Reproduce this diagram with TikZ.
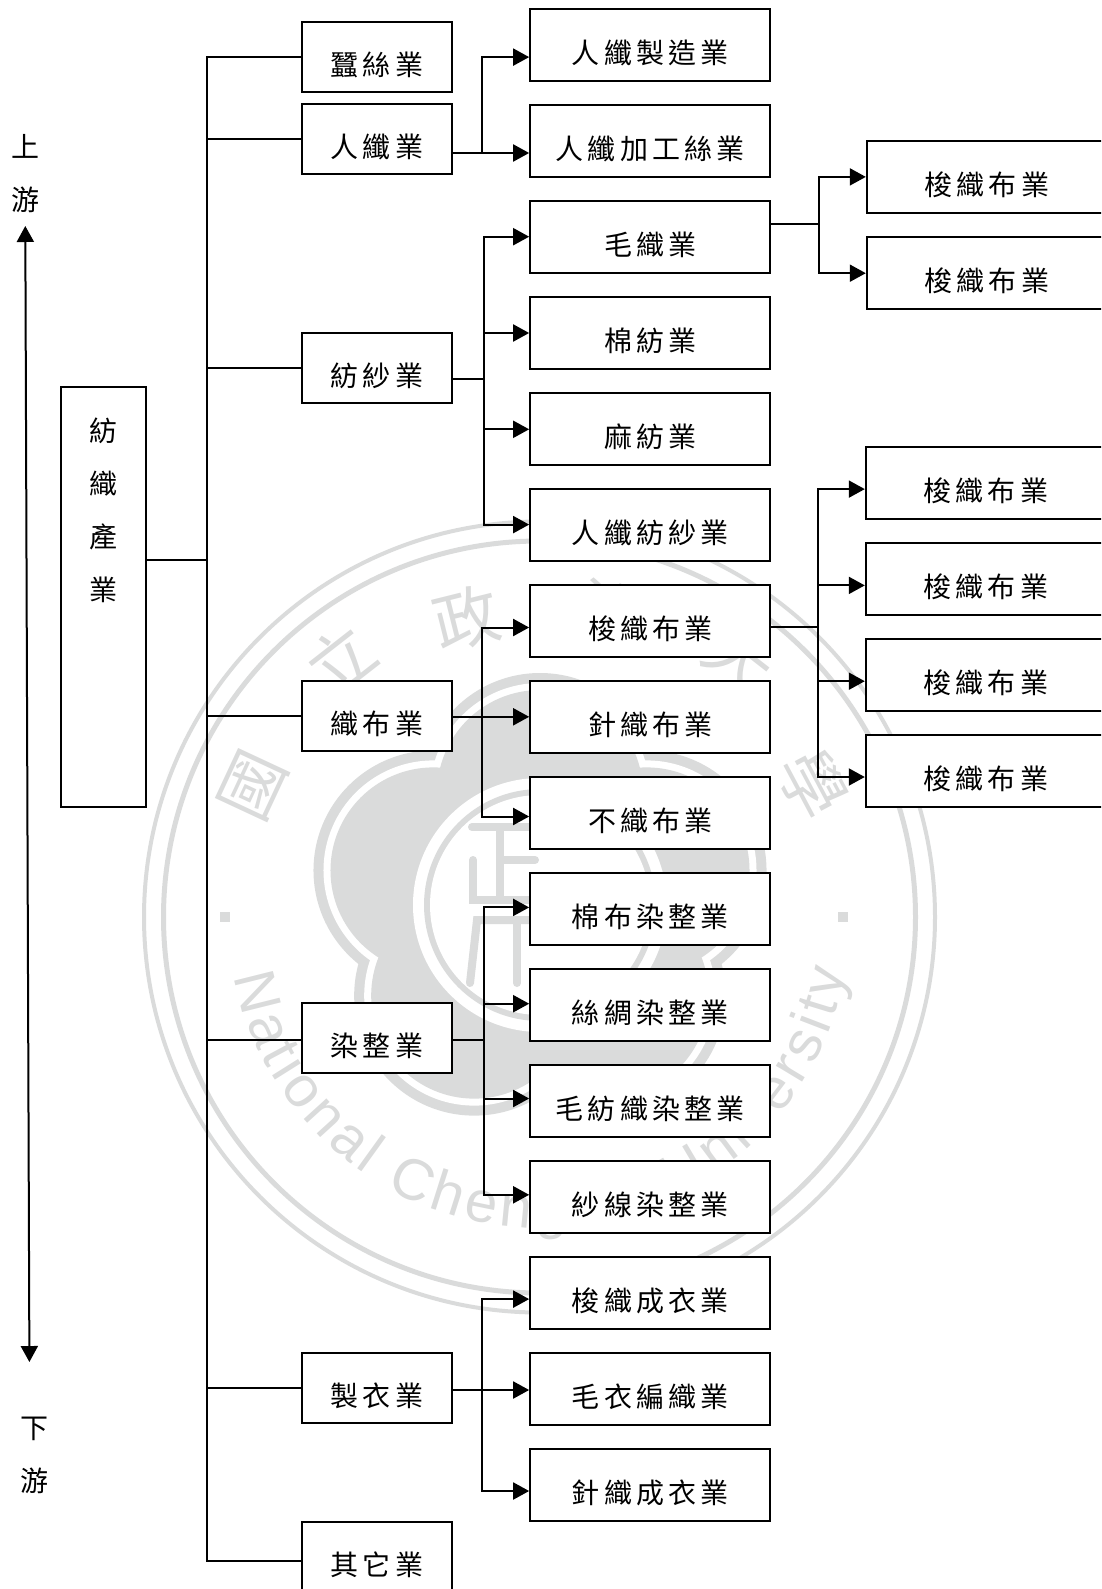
\documentclass[tikz,border=0pt]{standalone}
\usepackage{fontspec}
\usetikzlibrary{arrows.meta,calc,decorations.text}
\newfontfamily\cjkfont[LetterSpace=15]{Noto Sans CJK TC}
\newfontfamily\sealfont{Noto Sans CJK TC}
\newfontfamily\seallatin{Liberation Sans}
\definecolor{sealgray}{HTML}{DADBDB}

\begin{document}
\begin{tikzpicture}[
		x=1pt, y=-1pt,
		midbox/.style={draw, fill=white, line width=2pt, minimum width=150.6pt, minimum height=70pt, inner sep=0pt, text height=43pt, text depth=6pt, font=\cjkfont\fontsize{28}{30}\selectfont},
		subbox/.style={midbox, minimum width=240.3pt, minimum height=72pt},
		leafbox/.style={midbox, minimum width=240pt, minimum height=72pt},
		sidetext/.style={align=center, inner sep=0pt, font=\cjkfont\fontsize{28}{53}\selectfont},
		sealchar/.style={text=sealgray, inner sep=0pt, font=\sealfont\fontsize{66}{70}\selectfont},
		seal/.style={sealgray, line cap=round, line width=8pt},
		link/.style={line width=2pt},
		>={Triangle[length=16pt,width=17pt]}
	]
	\useasboundingbox (0,0) rectangle (1101,1589);
	\clip (0,0) rectangle (1101,1589);

	% watermark
	\draw[sealgray, line width=4pt] (539.5,917) circle[radius=395.5];
	\draw[sealgray, line width=5pt] (539.5,917) circle[radius=376];
	\fill[sealgray] (220,912) rectangle (230,922);
	\fill[sealgray] (838,912) rectangle (848,922);
	\foreach \sealx/\sealy/\sealrot/\sealtext in {253/786/65/國, 340/659/38/立, 466/618/14/政, 610/612/-14/治, 740/659/-38/大, 813/784/-62/學}
		\node[sealchar, rotate=\sealrot] at (\sealx,\sealy) {\sealtext};
	\path[decorate, decoration={text along path, text align=fit to path,
		text={|\seallatin\fontsize{58}{58}\selectfont\color{sealgray}|National Chengchi University}}]
		plot[domain=191:350, samples=80] ({539.5+311*cos(\x)},{917-311*sin(\x)});
	\foreach \petal in {90,162,234,306,18}
		\fill[sealgray] ({540+112*cos(\petal)},{905-112*sin(\petal)}) circle[radius=120];
	\foreach \petal in {90,162,234,306,18}
		\fill[white] ({540+112*cos(\petal)},{905-112*sin(\petal)}) circle[radius=110];
	\foreach \petal in {90,162,234,306,18}
		\fill[sealgray] ({540+112*cos(\petal)},{905-112*sin(\petal)}) circle[radius=103];
	\fill[sealgray] (540,905) circle[radius=110];
	\fill[white] (540,905) circle[radius=127];
	\fill[sealgray] (540,905) circle[radius=116];
	\fill[white] (540,905) circle[radius=110];
	\draw[seal] (472,827) -- (535,827);
	\draw[seal] (500,827) -- (500,897);
	\draw[seal] (500,860) -- (535,860);
	\draw[seal] (473,860) -- (473,900) -- (535,900);
	\draw[seal] (470,983) -- (477,920) -- (535,920);
	\draw[seal] (517,923) -- (517,983);

	% left labels
	\node[sidetext] (upstream) at (25.3,174) {上\\游};
	\node[sidetext] (downstream) at (34.5,1455) {下\\游};
	\coordinate (uptip) at (25.3,226);
	\coordinate (downtip) at (29.4,1362);
	\draw[<->, link] (uptip) -- (downtip);

	% root
	\node[midbox, minimum width=85.2pt, minimum height=420.7pt, text height=0pt, text depth=0pt] (rootbox) at (103.4,596.9) {};
	\node[sidetext] (roottext) at (103.9,510.5) {紡\\織\\產\\業};

	% middle column
	\node[midbox] (silk) at (376.9,56.8) {蠶絲業};
	\node[midbox] (rayon) at (376.9,139.4) {人纖業};
	\node[midbox] (spinning) at (376.9,367.5) {紡紗業};
	\node[midbox] (weaving) at (376.9,716.3) {織布業};
	\node[midbox] (dyeing) at (376.9,1038.2) {染整業};
	\node[midbox] (apparel) at (376.9,1388.4) {製衣業};
	\node[midbox] (others) at (376.9,1556.5) {其它業};

	% sub column
	\node[subbox] (rayonmake) at (650.3,45.1) {人纖製造業};
	\node[subbox] (rayonproc) at (650.3,140.9) {人纖加工絲業};
	\node[subbox] (wool) at (650.3,236.7) {毛織業};
	\node[subbox] (cotton) at (650.3,333) {棉紡業};
	\node[subbox] (linen) at (650.3,429.3) {麻紡業};
	\node[subbox] (rayonspin) at (650.3,524.6) {人纖紡紗業};
	\node[subbox] (woven) at (650.3,621) {梭織布業};
	\node[subbox] (knit) at (650.3,717.3) {針織布業};
	\node[subbox] (nonwoven) at (650.3,813) {不織布業};
	\node[subbox] (cottondye) at (650.3,908.9) {棉布染整業};
	\node[subbox] (silkdye) at (650.3,1005.2) {絲綢染整業};
	\node[subbox] (wooldye) at (650.3,1101) {毛紡織染整業};
	\node[subbox] (yarndye) at (650.3,1197.3) {紗線染整業};
	\node[subbox] (wovenwear) at (650.3,1293.1) {梭織成衣業};
	\node[subbox] (sweater) at (650.3,1389.4) {毛衣編織業};
	\node[subbox] (knitwear) at (650.3,1485) {針織成衣業};

	% right column
	\node[leafbox] (woola) at (986.8,176.9) {梭織布業};
	\node[leafbox] (woolb) at (986.8,273.2) {梭織布業};
	\node[leafbox] (wovena) at (985.8,483.1) {梭織布業};
	\node[leafbox] (wovenb) at (985.8,579.4) {梭織布業};
	\node[leafbox] (wovenc) at (985.8,674.7) {梭織布業};
	\node[leafbox] (wovend) at (985.8,771) {梭織布業};

	% trunk
	\coordinate (trunkend) at (206.8,1561.3);
	\coordinate (trunkjoin) at (206.8,559.6);
	\draw[link] (silk.west) -| (trunkend) -- (others.west |- trunkend);
	\draw[link] (rootbox.east |- trunkjoin) -- (trunkjoin);
	\draw[link] (rayon.west) -- (rayon.west -| trunkend);
	\draw[link] (spinning.west) -- (spinning.west -| trunkend);
	\draw[link] (weaving.west) -- (weaving.west -| trunkend);
	\draw[link] ([yshift=-2pt]dyeing.west) -- ([yshift=-2pt]dyeing.west -| trunkend);
	\draw[link] (apparel.west) -- (apparel.west -| trunkend);

	% rayon
	\coordinate (rayonbus) at (481.6,153);
	\draw[link] (rayon.east |- rayonbus) -- (rayonbus);
	\draw[->, link] (rayonbus) |- ([yshift=-12pt]rayonmake.west);
	\draw[->, link] (rayonbus) -- (rayonproc.west |- rayonbus);

	% spinning
	\coordinate (spinningbus) at (483.6,379);
	\draw[link] (spinning.east |- spinningbus) -- (spinningbus);
	\draw[->, link] (spinningbus) |- (wool.west);
	\draw[->, link] (spinningbus) |- (cotton.west);
	\draw[->, link] (spinningbus) |- (linen.west);
	\draw[->, link] (spinningbus) |- (rayonspin.west);

	% wool
	\coordinate (woolbus) at (819.2,224);
	\draw[link] (wool.east |- woolbus) -- (woolbus);
	\draw[->, link] (woolbus) |- (woola.west);
	\draw[->, link] (woolbus) |- (woolb.west);

	% weaving
	\coordinate (weavingbus) at (481.6,716.8);
	\draw[->, link] (weaving.east |- weavingbus) -- (knit.west |- weavingbus);
	\draw[->, link] (weavingbus) |- ([yshift=-6.5pt]woven.west);
	\draw[->, link] (weavingbus) |- ([yshift=-3.5pt]nonwoven.west);

	% woven
	\coordinate (wovenbus) at (818,626.5);
	\draw[link] (woven.east |- wovenbus) -- (wovenbus);
	\draw[->, link] (wovenbus) |- ([yshift=-6pt]wovena.west);
	\draw[->, link] (wovenbus) |- ([yshift=-6pt]wovenb.west);
	\draw[->, link] (wovenbus) |- ([yshift=-6.5pt]wovenc.west);
	\draw[->, link] (wovenbus) |- ([yshift=-6pt]wovend.west);

	% dyeing
	\coordinate (dyeingbus) at (483.6,1040.2);
	\draw[link] (dyeing.east |- dyeingbus) -- (dyeingbus);
	\draw[->, link] (dyeingbus) |- ([yshift=1.5pt]cottondye.west);
	\draw[->, link] (dyeingbus) |- ([yshift=1.5pt]silkdye.west);
	\draw[->, link] (dyeingbus) |- ([yshift=2.5pt]wooldye.west);
	\draw[->, link] (dyeingbus) |- ([yshift=2.5pt]yarndye.west);

	% apparel
	\coordinate (apparelbus) at (481.6,1390);
	\draw[->, link] (apparel.east |- apparelbus) -- (sweater.west |- apparelbus);
	\draw[->, link] (apparelbus) |- ([yshift=-6pt]wovenwear.west);
	\draw[->, link] (apparelbus) |- ([yshift=-6pt]knitwear.west);
\end{tikzpicture}
\end{document}
